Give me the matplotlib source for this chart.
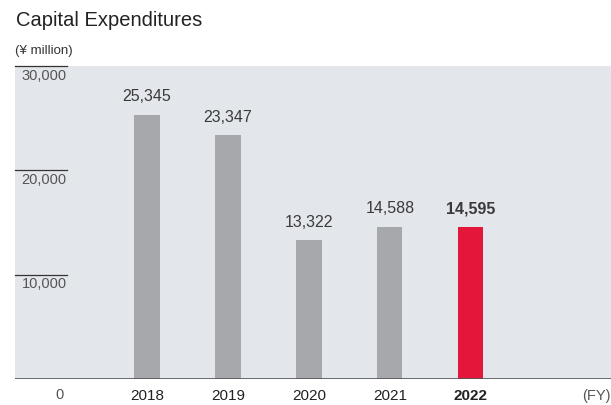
import matplotlib.pyplot as plt

years = ['2018', '2019', '2020', '2021', '2022']
capex = [25345, 23347, 13322, 14588, 14595]
yticks = [10000, 20000, 30000]

plt.rcParams['font.family'] = ['Liberation Sans', 'DejaVu Sans']

fig = plt.figure(figsize=(6.11, 4.05), dpi=100)
W, H = 611, 405
ax = fig.add_axes([15 / W, 26 / H, 596 / W, 313 / H])
ax.set_facecolor('#e3e7eb')

colors = ['#a7a8ab'] * 4 + ['#e4173a']
xs = list(range(len(years)))
ax.bar(xs, capex, width=0.31, color=colors, zorder=2)

for x, v, yr in zip(xs, capex, years):
    last = yr == years[-1]
    ax.text(x, v + 1000, f'{v:,}', ha='center', va='bottom', fontsize=11.5,
            color='#3a3a3a', fontweight='bold' if last else 'normal')
    ax.text(x, -1000, yr, ha='center', va='top', fontsize=11, color='#222222',
            fontweight='bold' if last else 'normal', clip_on=False)

ax.set_xlim(-1.63, 5.73)
ax.set_ylim(0, 30000)

# short tick rules on the left with labels tucked underneath
for t in yticks:
    ax.plot([-1.63, -0.99], [t, t], color='#333333', lw=0.9, zorder=3, clip_on=False)
    ax.text(-0.99, t - 250, f'{t:,}', ha='right', va='top', fontsize=10.5, color='#555555')
ax.text(-1.03, -900, '0', ha='right', va='top', fontsize=10.5, color='#555555', clip_on=False)
ax.text(5.73, -1000, '(FY)', ha='right', va='top', fontsize=10.5, color='#555555', clip_on=False)

ax.axhline(0, color='#555555', lw=1.2, zorder=3)

for s in ax.spines.values():
    s.set_visible(False)
ax.set_xticks([])
ax.set_yticks([])

fig.text(16 / W, 1 - 21 / H, 'Capital Expenditures', fontsize=14.5, color='#222222', va='center')
fig.text(15 / W, 1 - 51 / H, '(¥ million)', fontsize=9.5, color='#333333', va='center')

fig.savefig('out.png', dpi=100)
